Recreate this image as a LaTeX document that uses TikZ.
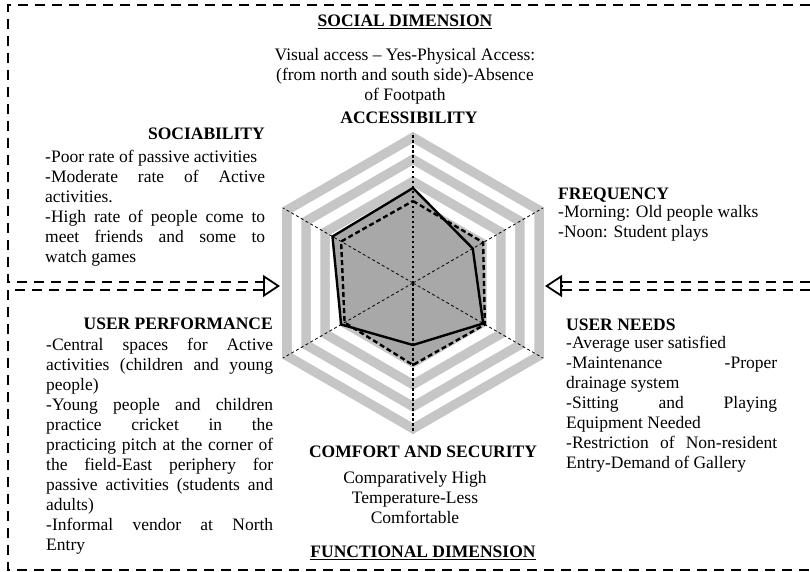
\documentclass[tikz,border=0pt]{standalone}
\usepackage{fontspec}
\setmainfont{Liberation Serif}
\usepackage{tikz}
\usetikzlibrary{arrows.meta}
\usetikzlibrary{positioning}
\setlength{\parindent}{0pt}
\tolerance=10000
\hbadness=10000
\hyphenpenalty=10000
\tikzset{
    frameline/.style={
        line width=1.8pt,
        dash pattern=on 10pt off 7pt
    },
    open tip/.style={
        line width=1.8pt,
        -{Triangle[open, length=17pt, width=22pt]}
    },
    spoke/.style={line width=0.8pt, dash pattern=on 3pt off 2.5pt},
    mainspoke/.style={line width=1.6pt, dash pattern=on 2.5pt off 2.5pt},
    area/.style={fill=black!34},
    title/.style={inner sep=0pt, font=\fontsize{17.5}{20}\selectfont\bfseries},
    body/.style={inner sep=0pt, align=left, font=\fontsize{17.5}{20}\selectfont},
    block/.style={body, align=justify}
}

\begin{document}
\begin{tikzpicture}[x=1pt, y=1pt]
    \useasboundingbox (0,0) rectangle (810,-572);
    \coordinate (c) at (413,-283);

    % Hexagon bands
    \foreach \r/\col in {151/gray!45, 140/white, 129/gray!45, 118/white,
                         107/gray!45, 96/white, 85/gray!45, 74/white, 63/gray!45}
        \fill[\col, shift={(c)}] (90:\r) -- (30:\r) -- (-30:\r) -- (-90:\r)
            -- (-150:\r) -- (150:\r) -- cycle;

    % Data areas
    \fill[area, shift={(c)}] (90:82) -- (30:81) -- (-30:83) -- (-90:82)
        -- (-150:79) -- (150:83) -- cycle;
    \fill[area, shift={(c)}] (90:95) -- (30:69) -- (-30:81) -- (-90:62)
        -- (-150:83) -- (150:93) -- cycle;

    % Spokes
    \draw[mainspoke] (c) -- ++(90:150);
    \draw[mainspoke] (c) -- ++(-90:150);
    \draw[spoke] (c) -- ++(30:150);
    \draw[spoke] (c) -- ++(-30:150);
    \draw[spoke] (c) -- ++(150:150);
    \draw[spoke] (c) -- ++(-150:150);

    % Data outlines
    \draw[line width=2.4pt, dash pattern=on 5pt off 3pt, shift={(c)}]
        (90:82) -- (30:81) -- (-30:83) -- (-90:82) -- (-150:79) -- (150:83) -- cycle;
    \draw[line width=2.4pt, line join=round, shift={(c)}]
        (90:95) -- (30:69) -- (-30:81) -- (-90:62) -- (-150:83) -- (150:93) -- cycle;

    % Dashed frames and arrows
    \coordinate (left in) at (280,-286);
    \coordinate (left base) at (263,-286);
    \coordinate (right in) at (545,-286);
    \coordinate (right base) at (562,-286);
    \draw[frameline] (810,-5) -- (8,-5) -- (8,-282) -- (263,-282);
    \draw[frameline] (263,-290) -- (8,-290) -- (8,-570) -- (810,-570);
    \draw[frameline] (810,-282) -- (562,-282);
    \draw[frameline] (810,-290) -- (562,-290);
    \draw[open tip] (left base) -- (left in);
    \draw[open tip] (right base) -- (right in);

    % Social dimension
    \node[title] (social) at (405,-22) {\underline{SOCIAL DIMENSION}};
    \node[body, align=center] (access text) at (405,-76)
        {Visual access – Yes-Physical Access:\\(from north and south side)-Absence\\of Footpath};
    \node[title] (access) at (409,-118) {ACCESSIBILITY};
    \node[title, anchor=east] (sociab) at (265,-134) {SOCIABILITY};
    \node[block, text width=220pt, anchor=north west] (sociab text) at (45,-150)
        {-Poor rate of passive activities\\
         -Moderate rate of Active\linebreak
         activities.\\
         -High rate of people come to\linebreak
         meet friends and some to\linebreak
         watch games};
    \node[title, anchor=west] (freq) at (558,-195) {FREQUENCY};
    \node[body, anchor=north west] (freq text) at (558,-205)
        {-Morning: Old people walks\\-Noon: Student plays};

    % Functional dimension
    \node[title, anchor=east] (perf) at (273,-324) {USER PERFORMANCE};
    \node[block, text width=227pt, anchor=north west] (perf text) at (46,-338)
        {-Central spaces for Active\linebreak
         activities (children and young\linebreak
         people)\\
         -Young people and children\linebreak
         practice cricket in the\linebreak
         practicing pitch at the corner of\linebreak
         the field-East periphery for\linebreak
         passive activities (students and\linebreak
         adults)\\
         -Informal vendor at North\linebreak
         Entry};
    \node[title, anchor=west] (needs) at (566,-325) {USER NEEDS};
    \node[block, text width=211pt, anchor=north west] (needs text) at (566,-336)
        {-Average user satisfied\\
         -Maintenance -Proper\linebreak
         drainage system\\
         -Sitting and Playing\linebreak
         Equipment Needed\\
         -Restriction of Non-resident\linebreak
         Entry-Demand of Gallery};
    \node[title] (comfort) at (423,-452) {COMFORT AND SECURITY};
    \node[body, align=center] (comfort text) at (415,-498)
        {Comparatively High\\Temperature-Less\\Comfortable};
    \node[title] (functional) at (423,-553) {\underline{FUNCTIONAL DIMENSION}};
\end{tikzpicture}
\end{document}
